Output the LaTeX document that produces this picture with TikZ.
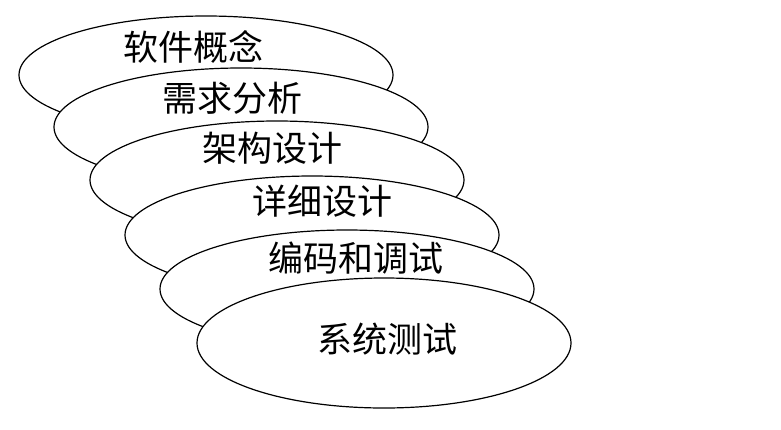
\documentclass[tikz,border=0pt]{standalone}
\usepackage{fontspec}
\newfontfamily\cjk{Noto Sans CJK SC}
\usetikzlibrary{shapes.geometric}

\begin{document}
\begin{tikzpicture}[x=1pt,y=-1pt,
    stage/.style={ellipse,draw,line width=1.2pt,fill=white,inner sep=0pt,minimum width=374pt,minimum height=118pt},
    stagetext/.style={font=\cjk\fontsize{35}{40}\selectfont,inner sep=0pt}]
        \useasboundingbox(0,0)rectangle(781,429);

        \node[stage](concept)at(206,75){};
        \node[stagetext](tconcept)at(193,47){软件概念};

        \node[stage](req)at(241,127){};
        \node[stagetext](treq)at(232,98){需求分析};

        \node[stage](arch)at(277,180){};
        \node[stagetext](tarch)at(272,148){架构设计};

        \node[stage](detail)at(312,235){};
        \node[stagetext](tdetail)at(322,201){详细设计};

        \node[stage](code)at(347,289){};
        \node[stagetext](tcode)at(356,258){编码和调试};

        \node[stage,minimum height=130pt](test)at(384,343){};
        \node[stagetext](ttest)at(387,339){系统测试};
    \end{tikzpicture}
\end{document}
